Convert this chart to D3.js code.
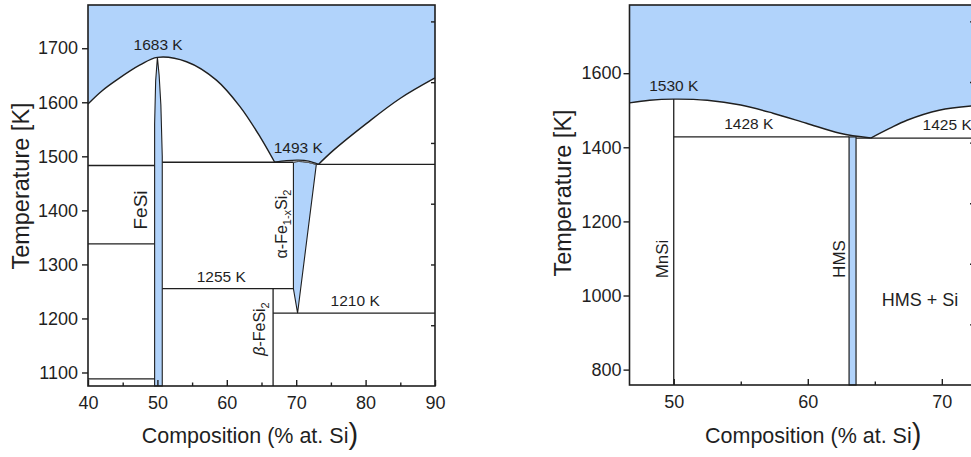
<!DOCTYPE html>
<html>
<head>
<meta charset="utf-8">
<script src="https://cdn.jsdelivr.net/npm/d3@7"></script>
<style>
  body { margin: 0; background: #fff; }
  svg { display: block; font-family: "Liberation Sans", Arial, sans-serif; }
</style>
</head>
<body>
<svg id="chart" width="971" height="457"></svg>
<script>
// ---------- Fe–Si phase diagram (composition in at.% Si, temperature in K) ----------
const feXTicks = [40, 50, 60, 70, 80, 90];
const feXMinor = [45, 55, 65, 75, 85];
const feYTicks = [1100, 1200, 1300, 1400, 1500, 1600, 1700];

// liquidus branches
const feLiquidusLeft = [[40, 1597], [42, 1621], [44.1, 1641], [47.5, 1669], [50, 1683],
                        [54.2, 1675], [58.5, 1641], [61.9, 1592], [64.8, 1536], [66.9, 1489]];
const feDomeUpper = [[66.9, 1489], [68.6, 1492], [70.3, 1493], [71.8, 1491], [73.2, 1485]];
const feLiquidusRight = [[73.2, 1485], [75.35, 1511], [80.15, 1561], [84.96, 1607], [90, 1645]];
// top of the alpha-Fe(1-x)Si2 field
const feDomeLower = [[69.6, 1489], [70.3, 1490.5], [71.6, 1489], [72.9, 1485]];
const feAlphaBase = [[70.2, 1210], [69.6, 1255], [69.6, 1489]];
// FeSi single-phase band
const feFeSiLeft = [[49.6, 1075], [49.6, 1560], [49.75, 1640], [50, 1683]];
const feFeSiRight = [[50, 1683], [50.25, 1650], [50.5, 1595], [50.7, 1500], [50.7, 1075]];
// invariant lines and phase boundaries
const feSegments = [
  [[40, 1483], [49.6, 1483]],
  [[40, 1338], [49.6, 1338]],
  [[40, 1088], [49.6, 1088]],
  [[50.7, 1489], [69.6, 1489]],
  [[50.7, 1255], [69.6, 1255]],
  [[66.67, 1075], [66.67, 1255]],
  [[66.67, 1210], [90, 1210]],
  [[72.9, 1485], [90, 1485]]
];
const feLabels = [
  { text: "1683 K", c: 50.1, t: 1683 },
  { text: "1493 K", c: 70.3, t: 1493 },
  { text: "1255 K", c: 59.2, t: 1255 },
  { text: "1210 K", c: 78.5, t: 1210 }
];

// ---------- Mn–Si phase diagram ----------
const mnXTicks = [50, 60, 70];
const mnXMinor = [55, 65];
const mnYTicks = [800, 1000, 1200, 1400, 1600];
const mnLiquidusLeft = [[46.7, 1520], [48.2, 1527], [50, 1530], [52.5, 1527], [55, 1514],
                        [57.4, 1492], [59.9, 1465], [62.4, 1438], [64.7, 1425]];
const mnLiquidusRight = [[64.7, 1425], [66.1, 1451], [67.4, 1473], [69.8, 1500], [72.4, 1512]];
const mnHMS = [63.08, 63.6];
const mnSegments = [
  [[50, 758.5], [50, 1530]],
  [[50, 1428], [63.08, 1428]],
  [[63.6, 1425], [72.4, 1425]]
];
const mnLabels = [
  { text: "1530 K", c: 50, t: 1530 },
  { text: "1428 K", c: 55.6, t: 1428 },
  { text: "1425 K", c: 70.4, t: 1425 }
];

// inward ticks on the right-hand frame of both panels
const frameTicks = [1, 2, 3, 4, 5, 6];

const ink = "#1f1f1f";
const blue = "#b1d3fb";
const svg = d3.select("#chart");
const smooth = d3.curveCatmullRom.alpha(0.5);

function pathOf(x, y, curve) {
  return d3.line().x(d => x(d[0])).y(d => y(d[1])).curve(curve || d3.curveLinear);
}
function cont(p) { return p.replace(/^M/, "L"); }

function styleAxis(g, size) {
  g.select(".domain").remove();
  g.selectAll("line").attr("stroke", ink).attr("stroke-width", 1.4);
  g.selectAll("text").attr("fill", ink).attr("font-size", size)
    .attr("font-family", "Liberation Sans, Arial, sans-serif");
  g.attr("font-size", null).attr("font-family", null);
}

function drawAxes(x, y, yTicks, xTicks, xMinor, ypad) {
  const [x0, x1] = x.range();
  const yb = y.range()[0], yt = y.range()[1];
  svg.append("g").attr("transform", `translate(${x0},0)`)
    .call(d3.axisLeft(y).tickValues(yTicks).tickSize(6).tickPadding(ypad).tickFormat(d3.format("d")))
    .call(g => styleAxis(g, 18));
  svg.append("g").attr("transform", `translate(0,${yb})`)
    .call(d3.axisBottom(x).tickValues(xTicks).tickSize(-6).tickPadding(10).tickFormat(d3.format("d")))
    .call(g => styleAxis(g, 18));
  svg.append("g").attr("transform", `translate(0,${yb})`)
    .call(d3.axisBottom(x).tickValues(xMinor).tickSize(-3.5).tickFormat(""))
    .call(g => styleAxis(g, 18));
  const s = d3.scaleLinear().domain([0, 6.27]).range([yb, yt]);
  svg.append("g").attr("transform", `translate(${x1},0)`)
    .call(d3.axisRight(s).tickValues(frameTicks).tickSize(-4).tickFormat(""))
    .call(g => styleAxis(g, 18));
  svg.append("rect")
    .attr("x", x0).attr("y", yt).attr("width", x1 - x0).attr("height", yb - yt)
    .attr("fill", "none").attr("stroke", ink).attr("stroke-width", 1.6);
}

function segLines(segs, x, y) {
  svg.append("g").selectAll("line").data(segs).join("line")
    .attr("x1", d => x(d[0][0])).attr("y1", d => y(d[0][1]))
    .attr("x2", d => x(d[1][0])).attr("y2", d => y(d[1][1]))
    .attr("stroke", ink).attr("stroke-width", 1.3);
}

function tempLabels(labels, x, y, dy) {
  svg.append("g").selectAll("text").data(labels).join("text")
    .attr("x", d => x(d.c)).attr("y", d => y(d.t) + dy)
    .attr("text-anchor", "middle").attr("font-size", 15.5).attr("fill", ink)
    .text(d => d.text);
}

function titles(cx, cyLabel, xTitleX) {
  svg.append("text")
    .attr("transform", `translate(${cx},${cyLabel}) rotate(-90)`)
    .attr("text-anchor", "middle").attr("font-size", 23.5).attr("fill", ink)
    .text("Temperature [K]");
  const t = svg.append("text").attr("x", xTitleX).attr("y", 442.5)
    .attr("font-size", 21.5).attr("fill", ink);
  t.append("tspan").text("Composition (% at. Si");
  t.append("tspan").attr("font-size", 29).attr("dy", 1.5).text(")");
}

function vlabel(x, y, size, build) {
  const t = svg.append("text")
    .attr("transform", `translate(${x},${y}) rotate(-90)`)
    .attr("text-anchor", "middle").attr("font-size", size).attr("fill", ink);
  build(t);
}

// ================= Fe–Si =================
const xA = d3.scaleLinear().domain([40, 90]).range([88, 435]);
const yA = d3.scaleLinear().domain([1075, 1780]).range([386, 5]);
const lA = pathOf(xA, yA, smooth);
const linA = pathOf(xA, yA);
const topA = yA.domain()[1];

svg.append("path")
  .attr("d", `M${xA(40)},${yA(topA)}` + cont(lA(feLiquidusLeft)) + cont(lA(feDomeUpper)) +
             cont(lA(feLiquidusRight)) + `L${xA(90)},${yA(topA)}Z`)
  .attr("fill", blue);

// alpha-Fe(1-x)Si2 field
svg.append("path")
  .attr("d", lA(feDomeLower) + feAlphaBase.map(p => `L${xA(p[0])},${yA(p[1])}`).join("") + "Z")
  .attr("fill", blue).attr("stroke", ink).attr("stroke-width", 1.1);

// lens between the liquidus and solidus over the alpha field
svg.append("path")
  .attr("d", lA(feDomeUpper.slice(1, 4)) + cont(lA(feDomeLower.slice().reverse())))
  .attr("fill", "#e4e8ee").attr("stroke", "none");

// FeSi band
svg.append("path")
  .attr("d", linA(feFeSiLeft.concat(feFeSiRight)) + "Z")
  .attr("fill", blue).attr("stroke", ink).attr("stroke-width", 1.1);

segLines(feSegments, xA, yA);

[feLiquidusLeft, feDomeUpper, feLiquidusRight].forEach(b => {
  svg.append("path").attr("d", lA(b)).attr("fill", "none").attr("stroke", ink).attr("stroke-width", 1.4);
});
svg.append("path").attr("d", lA(feDomeLower)).attr("fill", "none").attr("stroke", "#555").attr("stroke-width", 1);

drawAxes(xA, yA, feYTicks, feXTicks, feXMinor, 4);
tempLabels(feLabels, xA, yA, -7);

vlabel(146.5, 210, 19, t => t.text("FeSi"));
vlabel(287, 224, 16, t => {
  t.append("tspan").text("α-Fe");
  t.append("tspan").attr("font-size", 11).attr("dy", 3.5).text("1-x");
  t.append("tspan").attr("dy", -3.5).text("Si");
  t.append("tspan").attr("font-size", 11).attr("dy", 3.5).text("2");
});
vlabel(265, 329, 16, t => {
  t.append("tspan").attr("font-style", "italic").text("β");
  t.append("tspan").text("-FeSi");
  t.append("tspan").attr("font-size", 11).attr("dy", 3.5).text("2");
});

titles(29, 186, 141.7);

// ================= Mn–Si =================
const xB = d3.scaleLinear().domain([46.7, 72.4]).range([629.5, 974]);
const yB = d3.scaleLinear().domain([758.5, 1784]).range([385, 5]);
const lB = pathOf(xB, yB, smooth);
const topB = yB.domain()[1];

svg.append("path")
  .attr("d", `M${xB(46.7)},${yB(topB)}` + cont(lB(mnLiquidusLeft)) + cont(lB(mnLiquidusRight)) +
             `L${xB(72.4)},${yB(topB)}Z`)
  .attr("fill", blue);

// higher manganese silicide band
svg.append("rect")
  .attr("x", xB(mnHMS[0])).attr("y", yB(1428))
  .attr("width", xB(mnHMS[1]) - xB(mnHMS[0])).attr("height", yB(758.5) - yB(1428))
  .attr("fill", blue).attr("stroke", ink).attr("stroke-width", 1.2);

segLines(mnSegments, xB, yB);

[mnLiquidusLeft, mnLiquidusRight].forEach(b => {
  svg.append("path").attr("d", lB(b)).attr("fill", "none").attr("stroke", ink).attr("stroke-width", 1.4);
});

drawAxes(xB, yB, mnYTicks, mnXTicks, mnXMinor, 2);
tempLabels(mnLabels, xB, yB, -8);

vlabel(668, 259, 17, t => t.text("MnSi"));
vlabel(845, 259, 17, t => t.text("HMS"));
svg.append("text").attr("x", 920).attr("y", 305.5).attr("text-anchor", "middle")
  .attr("font-size", 18).attr("fill", ink).text("HMS + Si");

titles(571, 193, 705);
</script>
</body>
</html>
